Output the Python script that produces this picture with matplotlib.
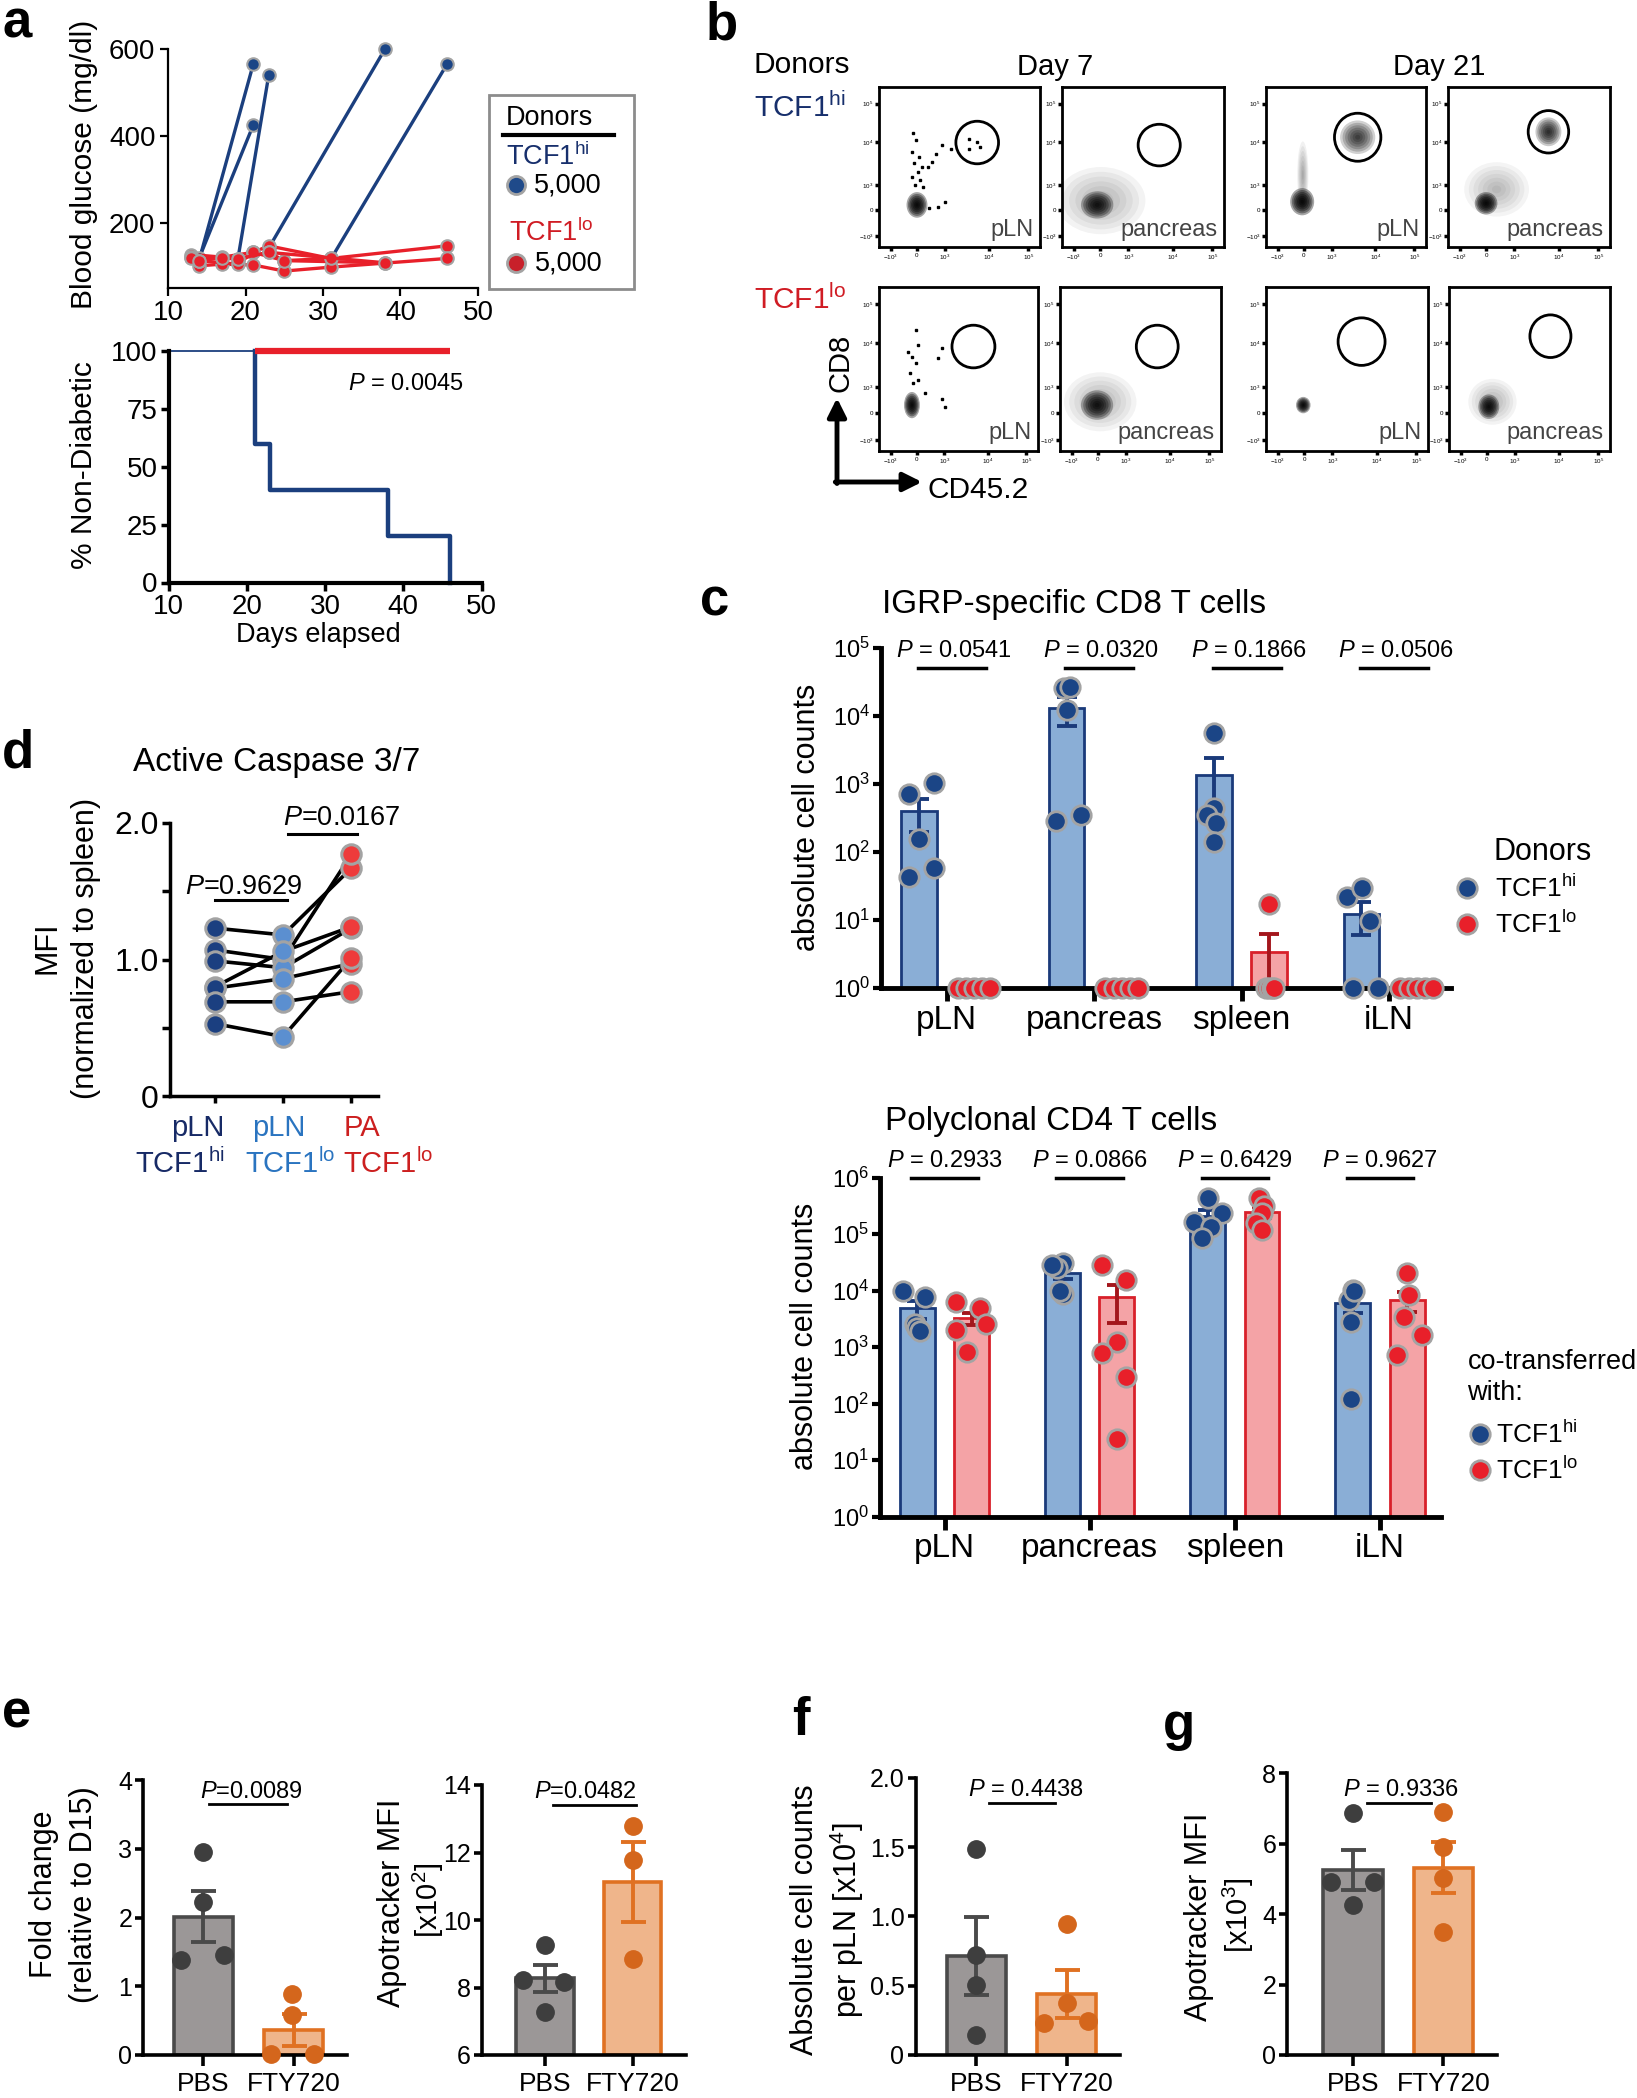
import numpy as np
import matplotlib
matplotlib.use("Agg")
import matplotlib.pyplot as plt
from matplotlib.patches import Ellipse, Rectangle
from matplotlib.ticker import NullLocator

W, H = 1637, 2098
FONT = "Liberation Sans"
plt.rcParams["font.family"] = [FONT, "DejaVu Sans"]
plt.rcParams["mathtext.fontset"] = "custom"
plt.rcParams["mathtext.rm"] = FONT
plt.rcParams["mathtext.it"] = FONT + ":italic"

# ---------------- data ----------------
# a: blood glucose per mouse (days, mg/dl)
glc_hi_days = [[14, 21], [14, 21], [19, 23], [23, 38], [31, 46]]
glc_hi_vals = [[113, 565], [118, 425], [115, 540], [142, 600], [116, 565]]
glc_lo_days = [[13, 17, 21, 23, 31, 46],
               [13, 19, 23, 25, 38],
               [14, 17, 21, 25, 31, 46],
               [14, 19, 21, 25, 31],
               [13, 14, 17, 19, 23, 38]]
glc_lo_vals = [[127, 121, 132, 147, 118, 147],
               [121, 117, 132, 113, 108],
               [101, 105, 103, 89, 98, 118],
               [113, 105, 132, 113, 118],
               [120, 113, 120, 117, 132, 108]]
# a: survival
surv_days_hi = [10, 21, 23, 38, 46]
surv_pct_hi = [100, 60, 40, 20, 0]
surv_days_lo = [21, 46]
surv_pct_lo = [100, 100]

# b: flow plots (axis fraction units): gates, density blobs, single events
flow_labels = ["pLN", "pancreas", "pLN", "pancreas", "pLN", "pancreas", "pLN", "pancreas"]
flow_gates = [(0.61, 0.653, 0.265, 0.266), (0.60, 0.637, 0.26, 0.26),
              (0.573, 0.686, 0.29, 0.30), (0.62, 0.72, 0.25, 0.265),
              (0.594, 0.637, 0.27, 0.26), (0.604, 0.637, 0.26, 0.26),
              (0.59, 0.667, 0.29, 0.29), (0.63, 0.70, 0.255, 0.26)]
flow_blobs = [
    [(0.236, 0.263, 0.13, 0.16, 2.5)],
    [(0.24, 0.29, 0.55, 0.42, 0.35), (0.217, 0.263, 0.2, 0.17, 2.0)],
    [(0.23, 0.45, 0.07, 0.42, 0.4), (0.226, 0.283, 0.15, 0.17, 2.5), (0.573, 0.686, 0.22, 0.21, 1.3)],
    [(0.3, 0.36, 0.4, 0.34, 0.3), (0.235, 0.273, 0.14, 0.14, 2.5), (0.62, 0.72, 0.16, 0.18, 1.5)],
    [(0.207, 0.28, 0.1, 0.16, 2.5)],
    [(0.25, 0.3, 0.45, 0.36, 0.35), (0.23, 0.28, 0.2, 0.18, 2.0)],
    [(0.23, 0.28, 0.09, 0.1, 2.5)],
    [(0.27, 0.3, 0.3, 0.28, 0.35), (0.247, 0.27, 0.13, 0.15, 2.2)],
]
flow_events = [
    [(0.211, 0.71), (0.229, 0.668), (0.204, 0.595), (0.247, 0.564), (0.218, 0.523),
     (0.265, 0.502), (0.24, 0.471), (0.204, 0.44), (0.255, 0.419), (0.222, 0.388),
     (0.276, 0.378), (0.393, 0.637), (0.447, 0.61), (0.356, 0.581), (0.327, 0.533),
     (0.302, 0.502), (0.556, 0.678), (0.611, 0.658), (0.629, 0.627), (0.556, 0.61),
     (0.411, 0.284), (0.364, 0.249), (0.313, 0.243)],
    [], [], [],
    [(0.233, 0.739), (0.185, 0.606), (0.244, 0.647), (0.207, 0.576), (0.232, 0.535),
     (0.196, 0.473), (0.244, 0.433), (0.214, 0.412), (0.399, 0.631), (0.369, 0.569),
     (0.399, 0.32), (0.417, 0.269), (0.288, 0.353)],
    [], [], [],
]

# c: IGRP-specific CD8 and polyclonal CD4 T cells
organs = ["pLN", "pancreas", "spleen", "iLN"]
igrp_hi_mean = [397, 13000, 1360, 12.3]
igrp_hi_sem = [200, 5800, 1060, 6.3]
igrp_lo_mean = [0, 0, 3.4, 0]
igrp_lo_sem = [0, 0, 2.8, 0]
igrp_hi_pts = [[710, 1020, 154, 59, 43], [25600, 26500, 12300, 288, 350],
               [5600, 440, 350, 265, 141], [22, 30, 9.7, 1, 1]]
igrp_hi_dx = [[-0.067, 0.1, 0, 0.1, -0.067], [-0.02, 0.023, 0, -0.07, 0.1],
              [0, 0, -0.045, 0.013, 0], [-0.095, 0.005, 0.06, -0.058, 0.109]]
igrp_lo_pts = [[1, 1, 1, 1, 1], [1, 1, 1, 1, 1], [17, 1, 1, 1, 1], [1, 1, 1, 1, 1]]
igrp_lo_dx = [[-0.11, -0.055, 0, 0.055, 0.11], [-0.11, -0.055, 0, 0.055, 0.11],
              [0, -0.02, 0, 0.02, 0.035], [-0.11, -0.055, 0, 0.055, 0.11]]
igrp_p = ["0.0541", "0.0320", "0.1866", "0.0506"]

cd4_hi_mean = [4900, 20400, 210000, 6000]
cd4_hi_sem = [1750, 4600, 60000, 1970]
cd4_lo_mean = [3300, 7700, 250000, 6900]
cd4_lo_sem = [800, 5000, 55000, 2700]
cd4_hi_pts = [[10000, 7800, 2600, 2200, 1900], [30500, 25000, 8900, 28000, 10000],
              [430000, 235000, 166000, 135000, 85000], [10200, 6800, 2800, 120, 10000]]
cd4_hi_dx = [[-0.1, 0.05, -0.017, 0, 0.02], [0, -0.04, 0, -0.075, -0.02],
             [0, 0.1, -0.096, 0.024, -0.04], [0, -0.028, -0.01, -0.01, 0.01]]
cd4_lo_pts = [[6400, 4900, 2570, 2000, 830], [28500, 15500, 1250, 780, 300, 24],
              [430000, 310000, 235000, 155000, 118000], [20400, 8400, 3400, 1640, 730]]
cd4_lo_dx = [[-0.11, 0.058, 0.096, -0.11, -0.036], [-0.1, 0.06, 0, -0.1, 0.06, 0],
             [-0.024, 0.013, 0, -0.04, 0], [0, 0.01, -0.024, 0.1, -0.073]]
cd4_p = ["0.2933", "0.0866", "0.6429", "0.9627"]

# d: active caspase 3/7 MFI, one row per mouse (pLN hi, pLN lo, PA lo)
casp_mfi = [[1.23, 1.18, 1.67],
            [1.07, 1.00, 1.77],
            [0.99, 0.94, 1.23],
            [0.80, 1.06, 1.24],
            [0.79, 0.86, 0.97],
            [0.69, 0.69, 0.765],
            [0.53, 0.435, 1.01]]

# e-g: PBS vs FTY720
groups = ["PBS", "FTY720"]
fold_mean, fold_sem = [2.01, 0.36], [0.37, 0.235]
fold_pts = [[2.96, 2.23, 1.38, 1.45], [0.89, 0.58, 0.015, 0.015]]
fold_dx = [[0, -0.01, -0.244, 0.229], [-0.02, -0.02, -0.249, 0.223]]
apo2_mean, apo2_sem = [8.27, 11.12], [0.4, 1.19]
apo2_pts = [[9.26, 8.22, 8.17, 7.28], [12.8, 11.78, 8.83]]
apo2_dx = [[0, -0.246, 0.22, 0], [0, 0, 0]]
cnt_mean, cnt_sem = [0.714, 0.44], [0.284, 0.173]
cnt_pts = [[1.483, 0.72, 0.505, 0.144], [0.942, 0.373, 0.228, 0.248]]
cnt_dx = [[0, 0, 0, 0], [0, 0, -0.245, 0.24]]
apo3_mean, apo3_sem = [5.25, 5.32], [0.57, 0.72]
apo3_pts = [[6.86, 4.92, 4.92, 4.26], [6.89, 5.92, 5.02, 3.48]]
apo3_dx = [[0, -0.247, 0.229, 0], [0, 0, 0, 0]]

# ---------------- colours ----------------
NAVY = "#1b4586"
NAVY_LINE = "#1b3f7e"
NAVY_TXT = "#172f6c"
RED = "#e8202a"
RED_TXT = "#d01c24"
RING = "#a3a3a3"
BAR_BLUE, BAR_BLUE_EDGE = "#8aaed6", "#1a3a7a"
BAR_RED, BAR_RED_EDGE, ERR_RED = "#f4a3a6", "#d8202a", "#a3161c"
PBS_FILL, PBS_EDGE, PBS_DOT = "#9b9797", "#4a4a4a", "#3e3e3e"
FTY_FILL, FTY_EDGE, FTY_DOT = "#efb58b", "#e07122", "#d4661c"
CASP_COLORS = ["#1b3f80", "#5b8fd0", "#ee3b3b"]
CASP_TXT = ["#172a66", "#2a74c0", "#cc1f1f"]

fig = plt.figure(figsize=(W / 100, H / 100), dpi=100)


def add_ax(x0, y0, x1, y1):
    return fig.add_axes([x0 / W, 1 - y1 / H, (x1 - x0) / W, (y1 - y0) / H])


def open_spines(ax, lw):
    ax.spines["top"].set_visible(False)
    ax.spines["right"].set_visible(False)
    ax.spines["left"].set_linewidth(lw)
    ax.spines["bottom"].set_linewidth(lw)


def sup(base, s):
    return base + r"$^{\mathregular{" + s + "}}$"


# ---------------- a ----------------
axa = add_ax(168, 49, 478, 288)
open_spines(axa, 1.6)
for d, v in zip(glc_hi_days, glc_hi_vals):
    axa.plot(d, v, "-o", color=NAVY_LINE, lw=2.4, ms=9, mfc=NAVY, mec=RING, mew=1.5,
             clip_on=False, zorder=2)
for d, v in zip(glc_lo_days, glc_lo_vals):
    axa.plot(d, v, "-o", color=RED, lw=2.4, ms=9, mfc=RED, mec=RING, mew=1.5,
             clip_on=False, zorder=3)
axa.set_xlim(10, 50)
axa.set_ylim(50, 600)
axa.set_xticks([10, 20, 30, 40, 50])
axa.set_yticks([200, 400, 600])
axa.tick_params(labelsize=20, length=6, width=1.6, pad=3)

axs = add_ax(168.6, 351.4, 481.6, 582.5)
open_spines(axs, 3)
axs.plot(surv_days_hi[:2], [surv_pct_hi[0]] * 2, color=NAVY_LINE, lw=1.3, clip_on=False)
axs.step([surv_days_hi[1]] + surv_days_hi[1:], [surv_pct_hi[0]] + surv_pct_hi[1:],
         where="post", color=NAVY_LINE, lw=3.2, clip_on=False)
axs.plot(surv_days_lo, surv_pct_lo, color=RED, lw=4.5, solid_capstyle="butt", clip_on=False)
axs.set_xlim(10, 50)
axs.set_ylim(0, 100)
axs.set_xticks([10, 20, 30, 40, 50])
axs.set_yticks([0, 25, 50, 75, 100])
axs.tick_params(labelsize=20, length=6, width=2.5, pad=2)
axs.text(32.9, 86, r"$\mathit{P}$ = 0.0045", fontsize=17, ha="left", va="center")

# ---------------- b ----------------
flow_boxes = [(879, 87, 1040, 247), (1062, 87, 1224, 247), (1266, 87, 1426, 247), (1448, 87, 1610, 247),
              (879, 287, 1038, 451), (1060, 287, 1221, 451), (1266, 287, 1428, 451), (1449, 287, 1610, 451)]
yt = [0.066, 0.232, 0.388, 0.656, 0.896]
xt = [0.073, 0.236, 0.41, 0.684, 0.927]
tl = [r"$\mathregular{-10^3}$", "0", r"$\mathregular{10^3}$", r"$\mathregular{10^4}$", r"$\mathregular{10^5}$"]
for k, box in enumerate(flow_boxes):
    ax = add_ax(*box)
    ax.set_xlim(0, 1)
    ax.set_ylim(0, 1)
    for s in ax.spines.values():
        s.set_linewidth(2)
    for (cx, cy, w, h, s) in flow_blobs[k]:
        for j in range(7):
            f = 1 - j / 7
            ax.add_patch(Ellipse((cx, cy), w * f, h * f, facecolor="black", edgecolor="none",
                                 alpha=min(0.14 * s, 0.85)))
    if flow_events[k]:
        ev = np.array(flow_events[k])
        ax.plot(ev[:, 0], ev[:, 1], "s", ms=2, color="black")
    gx, gy, gw, gh = flow_gates[k]
    ax.add_patch(Ellipse((gx, gy), gw, gh, facecolor="none", edgecolor="black", lw=2))
    ax.set_xticks(xt)
    ax.set_yticks(yt)
    ax.set_xticklabels(tl)
    ax.set_yticklabels(tl)
    ax.tick_params(labelsize=4.5, length=3, width=2.5, pad=1)
    ax.text(0.96, 0.04, flow_labels[k], transform=ax.transAxes, ha="right", va="bottom",
            fontsize=17, color="#444444")

# ---------------- c ----------------
xc = np.arange(len(organs))
OFF, BW = 0.187, 0.24


def count_panel(box, top, hi_mean, hi_sem, lo_mean, lo_sem, hi_pts, hi_dx, lo_pts, lo_dx,
                pvals, p_y, line_y, p_dx):
    ax = add_ax(*box)
    ax.set_yscale("log")
    ax.set_ylim(1, top)
    ax.set_xlim(-0.445, 3.42)
    open_spines(ax, 3.5)
    hm, lm = np.array(hi_mean, float), np.array(lo_mean, float)
    ax.bar(xc - OFF, hm - 1, BW, bottom=1, color=BAR_BLUE, edgecolor=BAR_BLUE_EDGE, lw=2, zorder=1)
    m = lm > 0
    ax.bar(xc[m] + OFF, lm[m] - 1, BW, bottom=1, color=BAR_RED, edgecolor=BAR_RED_EDGE, lw=2, zorder=1)
    ax.errorbar(xc - OFF, hm, yerr=hi_sem, fmt="none", ecolor=BAR_BLUE_EDGE, elinewidth=2.8,
                capsize=7, capthick=2.8, zorder=2)
    ax.errorbar(xc[m] + OFF, lm[m], yerr=np.array(lo_sem)[m], fmt="none", ecolor=ERR_RED,
                elinewidth=2.8, capsize=7, capthick=2.8, zorder=2)
    for i in range(len(organs)):
        ax.plot(xc[i] - OFF + np.array(hi_dx[i]), hi_pts[i], "o", ms=14, mfc=NAVY, mec=RING,
                mew=2, clip_on=False, zorder=4)
        ax.plot(xc[i] + OFF + np.array(lo_dx[i]), lo_pts[i], "o", ms=14, mfc=RED, mec=RING,
                mew=2, clip_on=False, zorder=4)
    tr = ax.get_xaxis_transform()
    for i, p in enumerate(pvals):
        ax.text(xc[i] + p_dx, p_y, r"$\mathit{P}$ = " + p, transform=tr, ha="center", va="center",
                fontsize=17)
        ax.plot([xc[i] - 0.23 + p_dx * 0.7, xc[i] + 0.23 + p_dx * 0.7], [line_y, line_y],
                transform=tr, color="black", lw=2.5, clip_on=False)
    dec = int(round(np.log10(top)))
    ax.set_yticks([10.0 ** k for k in range(dec + 1)])
    ax.set_yticklabels([r"$\mathregular{10^{%d}}$" % k for k in range(dec + 1)])
    ax.yaxis.set_minor_locator(NullLocator())
    ax.set_xticks(xc)
    ax.set_xticklabels(organs)
    ax.tick_params(axis="y", labelsize=17, length=6, width=3, pad=2)
    ax.tick_params(axis="x", labelsize=24, length=9, width=3.5, pad=3)
    return ax


count_panel((881, 648, 1451, 988), 1e5, igrp_hi_mean, igrp_hi_sem, igrp_lo_mean, igrp_lo_sem,
            igrp_hi_pts, igrp_hi_dx, igrp_lo_pts, igrp_lo_dx, igrp_p, 0.991, 0.941, 0.05)
count_panel((880, 1177.7, 1441, 1516.7), 1e6, cd4_hi_mean, cd4_hi_sem, cd4_lo_mean, cd4_lo_sem,
            cd4_hi_pts, cd4_hi_dx, cd4_lo_pts, cd4_lo_dx, cd4_p, 1.05, 0.999, 0.0)

# ---------------- d ----------------
axd = add_ax(170, 823, 378, 1096)
open_spines(axd, 2.5)
cm = np.array(casp_mfi)
for row in cm:
    axd.plot([0, 1, 2], row, "-", color="black", lw=2.6, zorder=2)
for j in range(3):
    axd.plot([j] * len(cm), cm[:, j], "o", ms=14, mfc=CASP_COLORS[j], mec=RING, mew=2.2,
             zorder=3, clip_on=False)
axd.set_xlim(-0.66, 2.39)
axd.set_ylim(0, 2)
axd.set_yticks([0, 0.5, 1.0, 1.5, 2.0])
axd.set_yticklabels(["0", "", "1.0", "", "2.0"])
axd.set_xticks([0, 1, 2])
axd.set_xticklabels([])
axd.tick_params(axis="y", labelsize=23, length=6, width=2.5, pad=2)
axd.tick_params(axis="x", length=5, width=2.5)
axd.text(0.42, 1.53, r"$\mathit{P}$=0.9629", fontsize=19.5, ha="center", va="center")
axd.plot([0, 1.05], [1.436, 1.436], color="black", lw=2.2)
axd.text(1.86, 2.04, r"$\mathit{P}$=0.0167", fontsize=19.5, ha="center", va="center")
axd.plot([1.07, 2.08], [1.92, 1.92], color="black", lw=2.2, clip_on=False)


# ---------------- e, f, g ----------------
def fty_panel(box, xlim, ylim, yticks, ytl, means, sems, pts, dxs, ptxt, p_xy, line_x, line_y):
    ax = add_ax(*box)
    open_spines(ax, 2.6)
    x = np.arange(2)
    fills, edges, dots = [PBS_FILL, FTY_FILL], [PBS_EDGE, FTY_EDGE], [PBS_DOT, FTY_DOT]
    for i in range(2):
        ax.bar(x[i], means[i] - ylim[0], 0.655, bottom=ylim[0], color=fills[i], edgecolor=edges[i],
               lw=2.6, zorder=1)
        ax.errorbar(x[i], means[i], yerr=sems[i], fmt="none", ecolor=edges[i], elinewidth=2.8,
                    capsize=9, capthick=2.8, zorder=2)
        ax.plot(x[i] + np.array(dxs[i]), pts[i], "o", ms=12.5, color=dots[i], clip_on=False, zorder=3)
    ax.set_xlim(*xlim)
    ax.set_ylim(*ylim)
    ax.set_yticks(yticks)
    ax.set_yticklabels(ytl)
    ax.set_xticks(x)
    ax.set_xticklabels(groups)
    ax.tick_params(axis="y", labelsize=18, length=6, width=2.6, pad=2)
    ax.tick_params(axis="x", labelsize=19, length=8, width=2.6, pad=4)
    ax.text(p_xy[0], p_xy[1], r"$\mathit{P}$" + ptxt, fontsize=17, ha="center", va="center")
    ax.plot(line_x, [line_y, line_y], color="black", lw=2, clip_on=False)
    return ax


fty_panel((143.3, 1780, 346.6, 2055), (-0.665, 1.584), (0, 4), [0, 1, 2, 3, 4],
          ["0", "1", "2", "3", "4"], fold_mean, fold_sem, fold_pts, fold_dx, "=0.0089",
          (0.527, 3.83), [0.06, 0.93], 3.65)
fty_panel((482, 1785, 686.4, 2055), (-0.718, 1.612), (6, 14), [6, 8, 10, 12, 14],
          ["6", "8", "10", "12", "14"], apo2_mean, apo2_sem, apo2_pts, apo2_dx, "=0.0482",
          (0.46, 13.8), [0.09, 1.04], 13.41)
fty_panel((915.5, 1777.7, 1119.6, 2055), (-0.676, 1.589), (0, 2), [0, 0.5, 1.0, 1.5, 2.0],
          ["0", "0.5", "1.0", "1.5", "2.0"], cnt_mean, cnt_sem, cnt_pts, cnt_dx, " = 0.4438",
          (0.545, 1.91), [0.14, 0.876], 1.82)
fty_panel((1287.4, 1773.3, 1497, 2055), (-0.724, 1.592), (0, 8), [0, 2, 4, 6, 8],
          ["0", "2", "4", "6", "8"], apo3_mean, apo3_sem, apo3_pts, apo3_dx, " = 0.9336",
          (0.53, 7.53), [0.154, 0.864], 7.17)

# ---------------- overlay: labels, legends, arrows ----------------
ov = fig.add_axes([0, 0, 1, 1], zorder=10)
ov.set_xlim(0, W)
ov.set_ylim(H, 0)
ov.axis("off")

for lab, (x, y) in zip("abcdefg", [(2, 38), (706, 40), (700, 616), (2, 767), (2, 1728), (792, 1735), (1163, 1740)]):
    ov.text(x, y, lab, fontsize=38, fontweight="bold", ha="left", va="baseline")

# a texts
ov.text(83.7, 164, "Blood glucose (mg/dl)", rotation=90, fontsize=21.5, ha="center", va="center")
ov.text(83.7, 465, "% Non-Diabetic", rotation=90, fontsize=21.5, ha="center", va="center")
ov.text(318, 635.5, "Days elapsed", fontsize=19.5, ha="center", va="center")
ov.add_patch(Rectangle((488.6, 95), 145.4, 193.7, facecolor="none", edgecolor="#8c8c8c", lw=2))
ov.text(506, 117.8, "Donors", fontsize=19.5, ha="left", va="center")
ov.plot([503, 614], [134.7, 134.7], color="black", lw=3)
ov.text(506, 156.6, sup("TCF1", "hi"), fontsize=19.5, color=NAVY_TXT, ha="left", va="center")
ov.plot(515.5, 185.2, "o", ms=13, mfc="#1f4a8a", mec=RING, mew=2)
ov.text(534, 185.2, "5,000", fontsize=19.5, ha="left", va="center")
ov.text(509, 232.3, sup("TCF1", "lo"), fontsize=19.5, color=RED_TXT, ha="left", va="center")
ov.plot(515.5, 263, "o", ms=13, mfc="#c8202a", mec=RING, mew=2)
ov.text(534.7, 263, "5,000", fontsize=19.5, ha="left", va="center")

# b texts
ov.text(754, 65, "Donors", fontsize=21.5, ha="left", va="center")
ov.text(1055.6, 66.7, "Day 7", fontsize=21, ha="center", va="center")
ov.text(1438.7, 66.7, "Day 21", fontsize=21, ha="center", va="center")
ov.text(754, 108, sup("TCF1", "hi"), fontsize=21.5, color=NAVY_TXT, ha="left", va="center")
ov.text(754, 300, sup("TCF1", "lo"), fontsize=21.5, color=RED_TXT, ha="left", va="center")
ov.text(841, 363, "CD8", rotation=90, fontsize=21, ha="center", va="center")
ov.text(927.6, 490, "CD45.2", fontsize=21.5, ha="left", va="center")
ov.annotate("", xy=(837, 398), xytext=(837, 483.5),
            arrowprops=dict(arrowstyle="-|>", lw=3.5, color="black", mutation_scale=28,
                            shrinkA=0, shrinkB=0))
ov.annotate("", xy=(922, 482), xytext=(835.3, 482),
            arrowprops=dict(arrowstyle="-|>", lw=3.5, color="black", mutation_scale=28,
                            shrinkA=0, shrinkB=0))

# c texts
ov.text(1074.5, 605, "IGRP-specific CD8 T cells", fontsize=24, ha="center", va="center")
ov.text(1051, 1121.7, "Polyclonal CD4 T cells", fontsize=24, ha="center", va="center")
ov.text(807.3, 817, "absolute cell counts", rotation=90, fontsize=22, ha="center", va="center")
ov.text(804.6, 1336, "absolute cell counts", rotation=90, fontsize=22, ha="center", va="center")
ov.text(1493, 851.7, "Donors", fontsize=22, ha="left", va="center")
ov.plot(1467.4, 888.3, "o", ms=14, mfc=NAVY, mec=RING, mew=2)
ov.plot(1467.4, 924, "o", ms=14, mfc=RED, mec=RING, mew=2)
ov.text(1494.8, 888.3, sup("TCF1", "hi"), fontsize=19, ha="left", va="center")
ov.text(1494.8, 924, sup("TCF1", "lo"), fontsize=19, ha="left", va="center")
ov.text(1467.4, 1361.7, "co-transferred", fontsize=19.5, ha="left", va="center")
ov.text(1467.4, 1393.3, "with:", fontsize=19.5, ha="left", va="center")
ov.plot(1479.5, 1434, "o", ms=14, mfc=NAVY, mec=RING, mew=2)
ov.plot(1479.5, 1470, "o", ms=14, mfc=RED, mec=RING, mew=2)
ov.text(1495.8, 1434, sup("TCF1", "hi"), fontsize=19, ha="left", va="center")
ov.text(1495.8, 1470, sup("TCF1", "lo"), fontsize=19, ha="left", va="center")

# d texts
ov.text(277, 762, "Active Caspase 3/7", fontsize=24, ha="center", va="center")
ov.text(47, 948, "MFI", rotation=90, fontsize=22, ha="center", va="center")
ov.text(86, 948, "(normalized to spleen)", rotation=90, fontsize=22, ha="center", va="center")
for name, sub, c, xc1, xl in zip(["pLN", "pLN", "PA"], ["hi", "lo", "lo"], CASP_TXT,
                                 [198, 279, 361.7], [135, 245, 343]):
    ov.text(xc1, 1128, name, fontsize=21, color=c, ha="center", va="center")
    ov.text(xl, 1164, sup("TCF1", sub), fontsize=21, color=c, ha="left", va="center")

# e, f, g y labels
ov.text(44.5, 1894.5, "Fold change", rotation=90, fontsize=22, ha="center", va="center")
ov.text(83.6, 1894.5, "(relative to D15)", rotation=90, fontsize=22, ha="center", va="center")
ov.text(392, 1903.3, "Apotracker MFI", rotation=90, fontsize=22, ha="center", va="center")
ov.text(428, 1900, sup("[x10", "2") + "]", rotation=90, fontsize=21, ha="center", va="center")
ov.text(804.7, 1920, "Absolute cell counts", rotation=90, fontsize=22, ha="center", va="center")
ov.text(846.7, 1920, "per pLN " + sup("[x10", "4") + "]", rotation=90, fontsize=22, ha="center", va="center")
ov.text(1199, 1916.7, "Apotracker MFI", rotation=90, fontsize=22, ha="center", va="center")
ov.text(1238, 1915, sup("[x10", "3") + "]", rotation=90, fontsize=21, ha="center", va="center")

fig.savefig("out.png", dpi=100)
